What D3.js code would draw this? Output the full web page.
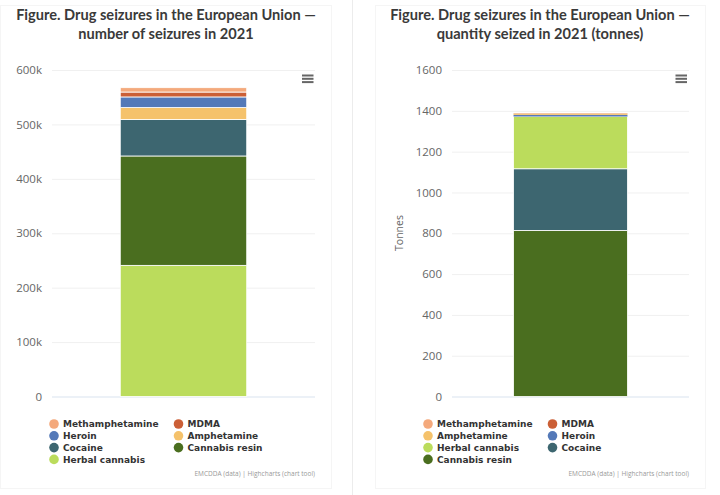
<!DOCTYPE html>
<html>
<head>
<meta charset="utf-8">
<script src="https://cdn.jsdelivr.net/npm/d3@7"></script>
<style>
html, body { margin: 0; padding: 0; background: #fff; }
svg { display: block; }
.title { font-family: "Lato", sans-serif; font-weight: 700; font-size: 14.6px; fill: #3a3a3a; text-anchor: middle; }
.tick text { font-family: "Open Sans", sans-serif; font-size: 11.5px; fill: #666; }
.legend text { font-family: "DejaVu Sans", sans-serif; font-weight: 700; font-size: 9px; fill: #333; }
.credit { font-family: "Open Sans", sans-serif; font-size: 6.5px; fill: #999; text-anchor: end; }
.ytitle { font-family: "Open Sans", sans-serif; font-size: 10.5px; fill: #666; text-anchor: middle; }
</style>
</head>
<body>
<div class="chart-container"></div>
<script>
const colors = {
    "Methamphetamine": "#f4a97c",
    "MDMA": "#cb5f36",
    "Heroin": "#5479b8",
    "Amphetamine": "#f5c26b",
    "Cocaine": "#3d6670",
    "Cannabis resin": "#4a6e1f",
    "Herbal cannabis": "#bbdc5c"
}

// Left chart, bottom of the stack first
const seizureNames = ["Herbal cannabis", "Cannabis resin", "Cocaine", "Amphetamine", "Heroin", "MDMA", "Methamphetamine"]
const seizureValues = [241000, 201000, 67000, 22000, 19500, 9000, 8000]
const seizureTicks = [0, 100000, 200000, 300000, 400000, 500000, 600000]
const seizureLegend = ["Methamphetamine", "MDMA", "Heroin", "Amphetamine", "Cocaine", "Cannabis resin", "Herbal cannabis"]

// Right chart, bottom of the stack first
const quantityNames = ["Cannabis resin", "Cocaine", "Herbal cannabis", "Heroin", "Amphetamine", "MDMA", "Methamphetamine"]
const quantityValues = [814, 302, 256, 8, 6, 1, 1]
const quantityTicks = [0, 200, 400, 600, 800, 1000, 1200, 1400, 1600]
const quantityLegend = ["Methamphetamine", "MDMA", "Amphetamine", "Heroin", "Herbal cannabis", "Cocaine", "Cannabis resin"]

const svg = d3.select(".chart-container").append("svg")
    .attr("width", 720)
    .attr("height", 495)

// Divider between the two charts
svg.append("line")
    .attr("x1", 352.5).attr("x2", 352.5)
    .attr("y1", 0).attr("y2", 495)
    .attr("stroke", "#ececec")
    .attr("stroke-width", 1)

function createChart(cfg){
    const g = svg.append("g")

    //Card behind the chart
    g.append("rect")
        .attr("x", cfg.card[0] + 0.5)
        .attr("y", 5.5)
        .attr("width", cfg.card[1] - cfg.card[0])
        .attr("height", 483)
        .attr("fill", "#fff")
        .attr("stroke", "#f5f5f5")

    cfg.title.forEach((t, i) => {
        g.append("text")
            .attr("class", "title")
            .attr("x", cfg.titleX)
            .attr("y", 20 + i * 18.5)
            .text(t)
    })

    const y = d3.scaleLinear()
        .domain([0, cfg.max])
        .range([396.5, 70])

    const x = d3.scaleBand()
        .domain(["2021"])
        .range([cfg.plot[0], cfg.plot[1]])
        .paddingInner(0)
        .paddingOuter(cfg.padding)

    //Y axis with gridlines, the domain line is removed
    const yAxis = g.append("g")
        .attr("transform", `translate(${cfg.plot[0]},0)`)
        .call(d3.axisLeft(y)
            .tickValues(cfg.ticks)
            .tickSize(-(cfg.plot[1] - cfg.plot[0]))
            .tickPadding(10)
            .tickFormat(cfg.format))
    yAxis.select(".domain").remove()
    yAxis.selectAll(".tick line")
        .attr("stroke", d => d === 0 ? "#e6ecf5" : "#f0f0f0")
        .attr("stroke-width", d => d === 0 ? 1.5 : 1)

    //Stacked segments
    let base = 0
    cfg.names.forEach((name, i) => {
        const top = base + cfg.values[i]
        g.append("rect")
            .attr("x", x("2021"))
            .attr("width", x.bandwidth())
            .attr("y", y(top))
            .attr("height", y(base) - y(top))
            .attr("fill", colors[name])
            .attr("stroke", "#fff")
            .attr("stroke-width", cfg.small && cfg.values[i] < 20 ? 0 : 0.8)
        base = top
    })

    if(cfg.ytitle){
        g.append("text")
            .attr("class", "ytitle")
            .attr("transform", `translate(${cfg.ytitleX},233) rotate(-90)`)
            .text(cfg.ytitle)
    }

    //Hamburger menu icon
    ;[0, 3.3, 6.6].forEach(dy => {
        g.append("rect")
            .attr("x", cfg.menuX)
            .attr("y", 74.5 + dy)
            .attr("width", 11.5)
            .attr("height", 2)
            .attr("fill", "#666")
    })

    //Legend in two columns
    const legend = g.append("g").attr("class", "legend")
    cfg.legend.forEach((name, i) => {
        const col = i % 2, row = Math.floor(i / 2)
        const lx = cfg.legendX[col], ly = 424 + row * 11.8
        legend.append("circle")
            .attr("cx", lx)
            .attr("cy", ly)
            .attr("r", 4.8)
            .attr("fill", colors[name])
        legend.append("text")
            .attr("x", lx + 9)
            .attr("y", ly + 3.4)
            .text(name)
    })

    g.append("text")
        .attr("class", "credit")
        .attr("x", cfg.plot[1])
        .attr("y", 476)
        .text("EMCDDA (data) | Highcharts (chart tool)")
}

createChart({
    card: [0, 331],
    title: ["Figure. Drug seizures in the European Union —", "number of seizures in 2021"],
    titleX: 166,
    plot: [52, 315],
    padding: 0.54,
    max: 600000,
    ticks: seizureTicks,
    format: d => d === 0 ? "0" : (d / 1000) + "k",
    names: seizureNames,
    values: seizureValues,
    legend: seizureLegend,
    legendX: [54, 178.5],
    menuX: 302
})

createChart({
    card: [375, 705],
    title: ["Figure. Drug seizures in the European Union —", "quantity seized in 2021 (tonnes)"],
    titleX: 540,
    plot: [452, 689],
    padding: 0.54,
    max: 1600,
    ticks: quantityTicks,
    format: d => String(d),
    names: quantityNames,
    values: quantityValues,
    legend: quantityLegend,
    legendX: [428, 552.5],
    menuX: 675.5,
    small: true,
    ytitle: "Tonnes",
    ytitleX: 403
})
</script>
</body>
</html>
